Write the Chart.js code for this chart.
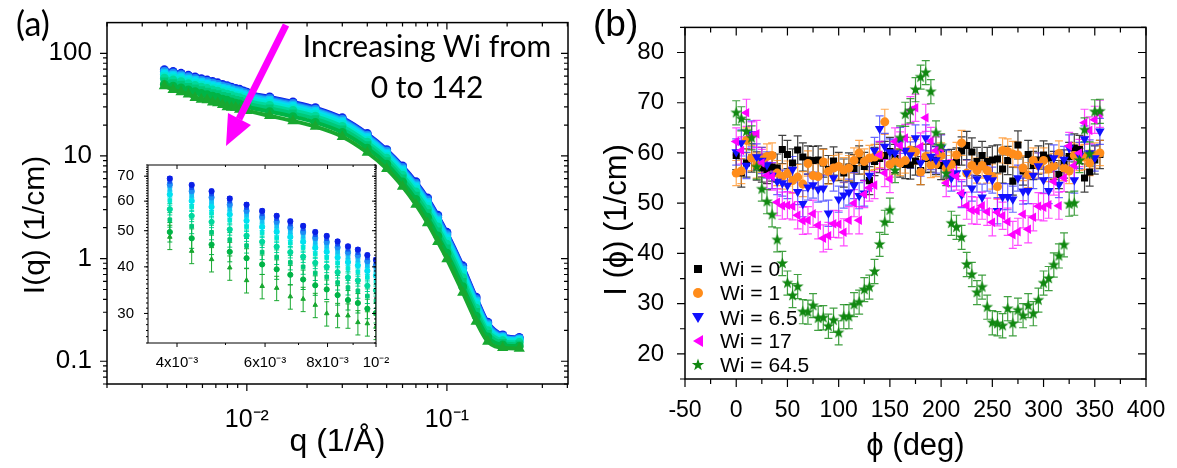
<!DOCTYPE html>
<html>
<head>
<meta charset="utf-8">
<script src="https://cdn.jsdelivr.net/npm/chart.js@4.4.1/dist/chart.umd.min.js"></script>
<style>
  body { margin: 0; background: #fff; }
  #wrap { position: relative; width: 1177px; height: 468px; overflow: hidden; font-family: "Liberation Sans", Arial, sans-serif; color: #000; }
  .box { position: absolute; }
  .lbl { position: absolute; white-space: nowrap; }
  .rot { transform: translate(-50%, -50%) rotate(-90deg); }
  .leg { position: absolute; left: 720px; font-size: 21px; line-height: 24px; white-space: nowrap; }
  .mk { position: absolute; left: 691px; }
</style>
</head>
<body>
<div id="wrap">
  <div class="box" style="left:0;top:0"><canvas id="chartA" width="590" height="468"></canvas></div>
  <div class="box" style="left:100px;top:150px"><canvas id="chartInset" width="300" height="240"></canvas></div>
  <div class="box" style="left:590px;top:0"><canvas id="chartB" width="587" height="468"></canvas></div>

  <div class="lbl" style="left:16px;top:6px;font-family:Lato;font-size:34px;line-height:34px">(a)</div>
  <div class="lbl" style="left:593px;top:5px;font-size:37px;line-height:37px">(b)</div>
  <div class="lbl rot" style="left:34px;top:225px;font-size:30px">I(q) (1/cm)</div>
  <div class="lbl rot" style="left:616px;top:220px;font-size:31px">I (ϕ) (1/cm)</div>
  <div class="lbl" style="left:277px;top:25px;width:300px;text-align:center;font-family:Lato;font-size:30px;line-height:41px;white-space:normal">Increasing Wi from<br>0 to 142</div>

  <svg class="box" style="left:0;top:0" width="590" height="200">
    <line x1="286" y1="25" x2="239" y2="119" stroke="#ff00ff" stroke-width="7"/>
    <polygon points="226,146 251,125 228,113" fill="#ff00ff"/>
  </svg>

  <svg class="mk" style="top:262px" width="14" height="14"><rect x="3" y="3" width="8" height="8" fill="#000"/></svg>
  <div class="leg" style="top:257px">Wi = 0</div>
  <svg class="mk" style="top:286px" width="14" height="14"><circle cx="7" cy="7" r="5" fill="#ff8c1a"/></svg>
  <div class="leg" style="top:281px">Wi = 1</div>
  <svg class="mk" style="top:311px" width="14" height="14"><polygon points="1,2 13,2 7,12" fill="#1010ff"/></svg>
  <div class="leg" style="top:306px">Wi = 6.5</div>
  <svg class="mk" style="top:334px" width="14" height="14"><polygon points="2,7 12,1 12,13" fill="#ff00ff"/></svg>
  <div class="leg" style="top:329px">Wi = 17</div>
  <svg class="mk" style="top:358px" width="14" height="14"><polygon points="7,0.5 8.5,4.9 13.2,5 9.5,7.8 10.8,12.3 7,9.6 3.2,12.3 4.5,7.8 0.8,5 5.5,4.9" fill="#118811"/></svg>
  <div class="leg" style="top:353px">Wi = 64.5</div>
</div>

<script>
// ---------- panel (a): SANS intensity, series from low Wi (blue) to high Wi (green)
const qA = [0.00387, 0.00428, 0.00469, 0.0051, 0.00551, 0.00592, 0.00633, 0.00674, 0.00715, 0.00756,
  0.00797, 0.00838, 0.00879, 0.0092, 0.00961, 0.01, 0.013, 0.017, 0.022, 0.03,
  0.04, 0.05, 0.06, 0.07, 0.08, 0.09, 0.1, 0.12, 0.14, 0.16, 0.19, 0.23];

const iq1 = [69.0, 66.3, 63.8, 61.0, 58.7, 56.5, 54.8, 53.0, 51.5, 49.6, 48.4, 46.8, 45.4, 44.5, 43.0, 41.8,
  37.5, 33.5, 29.5, 23.5, 16.5, 11.5, 8.0, 5.6, 3.9, 2.65, 1.8, 0.85, 0.42, 0.24, 0.18, 0.17];
const iq2 = [67.8, 65.2, 62.7, 60.0, 57.7, 55.5, 53.9, 52.1, 50.6, 48.8, 47.6, 46.0, 44.6, 43.7, 42.3, 41.1,
  36.9, 32.9, 29.0, 23.1, 16.2, 11.3, 7.85, 5.49, 3.81, 2.59, 1.76, 0.83, 0.411, 0.236, 0.178, 0.168];
const iq3 = [66.4, 63.8, 61.4, 58.7, 56.5, 54.4, 52.8, 51.0, 49.6, 47.8, 46.6, 45.1, 43.7, 42.9, 41.4, 40.3,
  36.1, 32.3, 28.4, 22.6, 15.9, 11.1, 7.67, 5.35, 3.71, 2.51, 1.71, 0.805, 0.40, 0.231, 0.175, 0.166];
const iq4 = [64.8, 62.2, 59.9, 57.2, 55.1, 53.0, 51.4, 49.7, 48.3, 46.5, 45.4, 43.9, 42.6, 41.8, 40.4, 39.2,
  35.2, 31.4, 27.7, 22.1, 15.5, 10.8, 7.46, 5.19, 3.58, 2.42, 1.65, 0.777, 0.387, 0.225, 0.172, 0.164];
const iq5 = [62.6, 60.1, 57.9, 55.3, 53.2, 51.2, 49.7, 48.1, 46.7, 45.0, 43.9, 42.4, 41.2, 40.4, 39.0, 37.9,
  34.0, 30.4, 26.8, 21.3, 15.0, 10.4, 7.19, 4.98, 3.43, 2.31, 1.57, 0.741, 0.371, 0.217, 0.168, 0.161];
const iq6 = [60.2, 57.9, 55.7, 53.3, 51.2, 49.3, 47.8, 46.3, 45.0, 43.3, 42.3, 40.9, 39.6, 38.8, 37.5, 36.5,
  32.7, 29.2, 25.8, 20.5, 14.4, 10.0, 6.90, 4.76, 3.26, 2.19, 1.49, 0.702, 0.353, 0.209, 0.164, 0.157];
const iq7 = [57.1, 54.8, 52.8, 50.4, 48.5, 46.7, 45.3, 43.8, 42.6, 41.0, 40.0, 38.7, 37.5, 36.8, 35.6, 34.6,
  31.0, 27.7, 24.4, 19.4, 13.6, 9.5, 6.50, 4.45, 3.03, 2.03, 1.38, 0.65, 0.329, 0.198, 0.158, 0.152];
const iq8 = [53.5, 51.4, 49.5, 47.3, 45.6, 43.8, 42.5, 41.1, 40.0, 38.5, 37.6, 36.3, 35.2, 34.5, 33.4, 32.4,
  29.1, 26.0, 22.9, 18.2, 12.8, 8.9, 6.06, 4.12, 2.78, 1.85, 1.26, 0.594, 0.303, 0.185, 0.151, 0.146];
const iq9 = [49.6, 47.7, 45.9, 43.9, 42.2, 40.6, 39.4, 38.1, 37.0, 35.7, 34.8, 33.6, 32.6, 32.0, 30.9, 30.1,
  27.0, 24.1, 21.2, 16.9, 11.9, 8.3, 5.58, 3.76, 2.52, 1.66, 1.13, 0.533, 0.275, 0.172, 0.144, 0.14];
const iq10 = [48.1, 44.1, 41.9, 39.8, 36.8, 35.5, 35.1, 33.3, 32.8, 31.6, 30.0, 29.7, 29.6, 28.4, 28.2, 27.6,
  24.6, 21.9, 19.3, 15.4, 10.8, 7.5, 5.04, 3.36, 2.22, 1.46, 0.99, 0.468, 0.244, 0.156, 0.135, 0.133];
// relative error of each series (inset error bars)
const errRelA = [0.012, 0.013, 0.015, 0.018, 0.022, 0.028, 0.035, 0.045, 0.06, 0.075];

const xTickA = [0.01, 0.1];
const xLabA = ['10⁻²', '10⁻¹'];
const yTickA = [0.1, 1, 10, 100];
const yLabA = ['0.1', '1', '10', '100'];
const xTickIn = [0.004, 0.006, 0.008, 0.01];
const xLabIn = ['4x10⁻³', '6x10⁻³', '8x10⁻³', '10⁻²'];
const yTickIn = [30, 40, 50, 60, 70];

// ---------- panel (b): azimuthal intensity
const phi = [0, 5, 10, 15, 20, 25, 30, 35, 40, 45, 50, 55, 60, 65, 70, 75, 80, 85, 90, 95, 100, 105, 110, 115,
  120, 125, 130, 135, 140, 145, 150, 155, 160, 165, 170, 175, 180, 185, 190, 195, 200, 205, 210, 215, 220, 225,
  230, 235, 240, 245, 250, 255, 260, 265, 270, 275, 280, 285, 290, 295, 300, 305, 310, 315, 320, 325, 330, 335,
  340, 345, 350, 355];
const iWi0 = [59.5, 56, 58, 59, 57.4, 57, 56.7, 57.2, 57, 60.7, 59.7, 58, 60.6, 59.2, 58.6, 58.5, 58.6, 58, 56.7,
  58.4, 57.3, 56, 57.2, 56.9, 58.6, 57.3, 54.5, 58.3, 58.9, 59.5, 60.3, 58.9, 58, 57.7, 57.6, 58.4, 56.5, 58.9,
  59, 58.5, 57.5, 57.8, 57.9, 58.2, 60.4, 61.5, 60.2, 58.3, 59.5, 58.3, 58.6, 58.8, 56.8, 58.5, 54.4, 61.6,
  56.4, 59.7, 57.5, 58.6, 59.6, 59, 57.5, 55.7, 57.8, 59.3, 61, 60.7, 55, 56.2, 58.6, 59.7];
const iWi1 = [56, 56.4, 62.5, 59, 57.5, 58.6, 59.3, 59.5, 56, 55.3, 55.9, 54.5, 55.2, 53.8, 57.9, 55.5, 55.3,
  58.2, 56.3, 57, 57.3, 56.6, 57, 58.5, 60, 58.3, 59, 59.2, 59.6, 66.2, 57.7, 58.3, 58, 58.5, 60.6, 60.2, 56.2,
  59.3, 57.6, 57.8, 59.5, 57, 57.7, 59.6, 62, 56, 57.5, 56.5, 57.5, 56.5, 55.3, 53.3, 60.5, 60.3, 59.8, 59.6,
  57, 55.6, 58.5, 57.5, 58.5, 56.8, 57.4, 59.9, 57, 56.4, 59.5, 59, 59.2, 58, 59.5, 60];
const iWi6_5 = [60.2, 62, 57.5, 63.8, 59.2, 58.5, 57.6, 55.5, 54.3, 54, 53.5, 56.7, 52.3, 49.9, 53.2, 53.6, 52.8,
  53, 48, 55, 50.8, 51.6, 52.2, 53.5, 51.5, 52, 55.5, 60.5, 64.8, 61.3, 60.2, 60, 62.5, 60.5, 59.6, 63, 58, 63,
  59.3, 58.6, 61, 58, 55, 56, 51.7, 56, 53, 54.8, 51.2, 55, 54.6, 48.5, 51.3, 51.3, 50.8, 55, 52.4, 52.5, 55.5,
  57.4, 54.6, 52.5, 59, 53.7, 58.7, 61, 54.6, 59.5, 62.8, 60, 59, 64.3];
const iWi17 = [62.3, 60.5, 68, 63.5, 63.8, 58, 55.5, 55.3, 50.2, 49.5, 49.6, 49.4, 47.6, 46.5, 46.6, 47.9, 45.6,
  43, 43.5, 45.9, 45.8, 44.2, 46.6, 50, 46.6, 51.8, 53.1, 53.6, 59.6, 56, 54.8, 62.3, 61.5, 63, 68.5, 69, 61.3,
  67, 62.4, 60.5, 61, 54, 56, 55.3, 52, 49.5, 48.6, 48.5, 49.5, 48.3, 46.2, 48.2, 47.5, 46.3, 43.7, 44.3, 47.8,
  44.8, 47.2, 49.4, 49.2, 49.7, 54.3, 49.5, 55, 61.4, 57.5, 60, 66, 64.5, 66.6, 67.8];
const iWi64_5 = [68, 66.8, 64.3, 63, 57.2, 52.8, 50.3, 47.7, 42.7, 38, 34.1, 31.6, 33.4, 28.4, 28.3, 29.6, 27.1,
  27.2, 25.5, 26.7, 24.2, 27.4, 27.4, 29.8, 30.3, 32.8, 33.3, 36.4, 41.8, 46.2, 48.6, 56.5, 63, 67.7, 68.4,
  72.6, 75.1, 76, 72.2, 64, 61.4, 55.9, 46, 45.2, 43.2, 37.8, 35.8, 32.2, 33.3, 29.3, 26.2, 26, 25.6, 29, 26,
  28.7, 27.6, 29.6, 28, 30.7, 34.1, 35, 37.7, 39.5, 41.7, 49.8, 50, 58.5, 64.6, 59.8, 68.2, 68.3];
// typical error bar of each series
const errB = [2.8, 2.5, 2.6, 2.7, 2.4];
const xTickB = [-50, 0, 50, 100, 150, 200, 250, 300, 350, 400];
const yTickB = [20, 30, 40, 50, 60, 70, 80];

// ---------- helpers
Chart.defaults.font.family = '"Liberation Sans", Arial, sans-serif';
Chart.defaults.color = '#000';

function logTicks(min, max) {
  const out = [];
  for (let e = Math.floor(Math.log10(min)); e <= Math.ceil(Math.log10(max)); e++) {
    for (let k = 1; k < 10; k++) {
      const v = k * Math.pow(10, e);
      if (v >= min * 0.999 && v <= max * 1.001) out.push({ value: v });
    }
  }
  return out;
}
function labelFor(v, majors, labels) {
  const i = majors.findIndex(m => Math.abs(m - v) / Math.abs(m) < 1e-6);
  return i >= 0 ? labels[i] : '';
}

// box around the plot, outward ticks left/bottom, inward ticks top/right
const frameTicks = {
  id: 'frameTicks',
  beforeDraw(chart, args, o) {
    if (!o.bg) return;
    const a = chart.chartArea;
    chart.ctx.save();
    chart.ctx.fillStyle = o.bg;
    chart.ctx.fillRect(a.left, a.top, a.width, a.height);
    chart.ctx.restore();
  },
  afterDraw(chart, args, o) {
    const { ctx, chartArea: a } = chart;
    const xs = chart.scales.x, ys = chart.scales.y;
    ctx.save();
    ctx.strokeStyle = '#000';
    ctx.lineWidth = o.lw || 1.5;
    ctx.strokeRect(a.left, a.top, a.width, a.height);
    ctx.lineWidth = o.tw || 1.2;
    ctx.beginPath();
    xs.ticks.forEach(t => {
      const x = xs.getPixelForValue(t.value);
      if (x < a.left - 0.5 || x > a.right + 0.5) return;
      const len = t.label !== '' ? o.major : o.minor;
      ctx.moveTo(x, a.bottom); ctx.lineTo(x, a.bottom + len);
      ctx.moveTo(x, a.top); ctx.lineTo(x, a.top + len);
    });
    const yList = o.yMinor ? ys.ticks.concat(o.yMinor.map(v => ({ value: v, label: '' }))) : ys.ticks;
    yList.forEach(t => {
      const y = ys.getPixelForValue(t.value);
      if (y < a.top - 0.5 || y > a.bottom + 0.5) return;
      const len = t.label !== '' ? o.major : o.minor;
      ctx.moveTo(a.left, y); ctx.lineTo(a.left - len, y);
      ctx.moveTo(a.right, y); ctx.lineTo(a.right - len, y);
    });
    ctx.stroke();
    ctx.restore();
  }
};

const errorBars = {
  id: 'errorBars',
  beforeDatasetsDraw(chart) {
    const { ctx, chartArea: a } = chart;
    const ys = chart.scales.y;
    ctx.save();
    ctx.beginPath();
    ctx.rect(a.left, a.top, a.width, a.height);
    ctx.clip();
    chart.data.datasets.forEach((ds, i) => {
      if (ds.errAbs === undefined && ds.errRel === undefined) return;
      const meta = chart.getDatasetMeta(i);
      ctx.strokeStyle = ds.errColor;
      ctx.lineWidth = ds.errWidth || 1.2;
      const cap = ds.errCap || 4;
      meta.data.forEach((pt, j) => {
        const v = ds.data[j].y;
        const e = ds.errAbs !== undefined ? ds.errAbs : v * ds.errRel;
        const y1 = ys.getPixelForValue(v + e), y2 = ys.getPixelForValue(v - e);
        ctx.beginPath();
        ctx.moveTo(pt.x, y1); ctx.lineTo(pt.x, y2);
        ctx.moveTo(pt.x - cap, y1); ctx.lineTo(pt.x + cap, y1);
        ctx.moveTo(pt.x - cap, y2); ctx.lineTo(pt.x + cap, y2);
        ctx.stroke();
      });
    });
    ctx.restore();
  }
};

// filled five-point star marker
function starMarker(color, size) {
  const c = document.createElement('canvas');
  c.width = size; c.height = size;
  const g = c.getContext('2d');
  const cx = size / 2, cy = size / 2, R = size / 2 - 0.3, r = R * 0.4;
  g.beginPath();
  for (let k = 0; k < 10; k++) {
    const ang = (-90 + 36 * k) * Math.PI / 180;
    const rr = k % 2 ? r : R;
    g.lineTo(cx + rr * Math.cos(ang), cy + rr * Math.sin(ang));
  }
  g.closePath();
  g.fillStyle = color;
  g.fill();
  return c;
}

// ---------- chart (a)
const seriesA = [iq1, iq2, iq3, iq4, iq5, iq6, iq7, iq8, iq9, iq10];
const colorsA = ['#0a1ee6', '#1450f0', '#1e8cf5', '#14c0f5', '#00e0f0', '#00e6d2', '#00d89c', '#00c878', '#00b446', '#18a830'];
const stylesA = ['circle', 'rect', 'circle', 'rect', 'circle', 'rect', 'circle', 'rect', 'circle', 'triangle'];

new Chart(document.getElementById('chartA'), {
  type: 'scatter',
  data: {
    datasets: seriesA.map((s, i) => ({
      data: qA.map((q, j) => ({ x: q, y: s[j] })),
      showLine: true,
      borderColor: colorsA[i],
      backgroundColor: colorsA[i],
      borderWidth: 4,
      pointRadius: 2.5,
      pointStyle: stylesA[i],
      cubicInterpolationMode: 'monotone',
      order: 10 - i
    }))
  },
  options: {
    responsive: false, animation: false, events: [],
    layout: { padding: { top: 19, right: 22, left: 0, bottom: 0 } },
    plugins: { legend: { display: false }, tooltip: { enabled: false }, frameTicks: { major: 7, minor: 4 } },
    scales: {
      x: {
        type: 'logarithmic', min: 0.002, max: 0.403,
        afterFit: s => { s.height = 84; },
        afterBuildTicks: s => { s.ticks = logTicks(0.002, 0.403); },
        grid: { display: false }, border: { display: false },
        ticks: { autoSkip: false, maxRotation: 0, padding: 13, font: { size: 25 }, callback: v => labelFor(v, xTickA, xLabA) },
        title: { display: true, text: 'q (1/Å)', font: { size: 32 }, padding: { top: 0, bottom: 7 } }
      },
      y: {
        type: 'logarithmic', min: 0.06, max: 199,
        afterFit: s => { s.width = 107; },
        afterBuildTicks: s => { s.ticks = logTicks(0.06, 199); },
        grid: { display: false }, border: { display: false },
        ticks: { autoSkip: false, padding: 7, font: { size: 26 }, callback: v => labelFor(v, yTickA, yLabA) }
      }
    }
  },
  plugins: [frameTicks]
});

// ---------- inset of (a)
const yMinorIn = [];
for (let v = 25; v <= 75; v++) yMinorIn.push(v);

new Chart(document.getElementById('chartInset'), {
  type: 'scatter',
  data: {
    datasets: seriesA.map((s, i) => ({
      data: qA.map((q, j) => ({ x: q, y: s[j] })),
      backgroundColor: colorsA[i],
      borderColor: colorsA[i],
      pointRadius: 2.6,
      pointStyle: stylesA[i],
      errRel: errRelA[i],
      errColor: colorsA[i],
      errCap: 2.5,
      errWidth: 1,
      order: i
    }))
  },
  options: {
    responsive: false, animation: false, events: [],
    layout: { padding: { top: 12, right: 24, left: 0, bottom: 0 } },
    plugins: { legend: { display: false }, tooltip: { enabled: false },
      frameTicks: { major: 4, minor: 2, lw: 1, tw: 1, bg: '#fff', yMinor: yMinorIn } },
    scales: {
      x: {
        type: 'logarithmic', min: 0.0035, max: 0.01,
        afterFit: s => { s.height = 47; },
        afterBuildTicks: s => { s.ticks = logTicks(0.0035, 0.01); },
        grid: { display: false }, border: { display: false },
        ticks: { autoSkip: false, maxRotation: 0, padding: 3, font: { size: 15 }, callback: v => labelFor(v, xTickIn, xLabIn) }
      },
      y: {
        type: 'logarithmic', min: 25, max: 75,
        afterFit: s => { s.width = 48; },
        afterBuildTicks: s => { s.ticks = yTickIn.map(v => ({ value: v })); },
        grid: { display: false }, border: { display: false },
        ticks: { autoSkip: false, padding: 6, font: { size: 15 }, callback: v => String(v) }
      }
    }
  },
  plugins: [frameTicks, errorBars]
});

// ---------- chart (b)
const seriesB = [iWi0, iWi1, iWi6_5, iWi17, iWi64_5];
const labelsB = ['Wi = 0', 'Wi = 1', 'Wi = 6.5', 'Wi = 17', 'Wi = 64.5'];
const colorsB = ['#000000', '#ff8c1a', '#1010ff', '#ff00ff', '#118811'];
const errColB = ['rgba(0,0,0,0.75)', 'rgba(255,140,26,0.75)', 'rgba(40,40,255,0.7)', 'rgba(255,0,255,0.7)', 'rgba(17,136,17,0.8)'];
const stylesB = ['rect', 'circle', 'triangle', 'triangle', starMarker('#118811', 13)];
const rotB = [0, 0, 180, -90, 0];
const radB = [5, 4.5, 5.5, 5.5, 6];

new Chart(document.getElementById('chartB'), {
  type: 'scatter',
  data: {
    datasets: seriesB.map((s, i) => ({
      label: labelsB[i],
      data: phi.map((p, j) => ({ x: p, y: s[j] })),
      backgroundColor: colorsB[i],
      borderColor: colorsB[i],
      borderWidth: 0,
      pointRadius: radB[i],
      pointStyle: stylesB[i],
      rotation: rotB[i],
      errAbs: errB[i],
      errColor: errColB[i],
      errCap: 4,
      order: 5 - i
    }))
  },
  options: {
    responsive: false, animation: false, events: [],
    layout: { padding: { top: 14, right: 31, left: 0, bottom: 0 } },
    plugins: { legend: { display: false }, tooltip: { enabled: false }, frameTicks: { major: 8, minor: 5 } },
    scales: {
      x: {
        type: 'linear', min: -50, max: 400,
        afterFit: s => { s.height = 89; },
        grid: { display: false }, border: { display: false },
        ticks: { stepSize: 25, autoSkip: false, maxRotation: 0, padding: 10, font: { size: 23 },
          callback: v => xTickB.includes(v) ? String(v) : '' },
        title: { display: true, text: 'ϕ (deg)', font: { size: 31 }, padding: { top: 0, bottom: 3 } }
      },
      y: {
        type: 'linear', min: 15, max: 85,
        afterFit: s => { s.width = 95; },
        grid: { display: false }, border: { display: false },
        ticks: { stepSize: 5, autoSkip: false, padding: 13, font: { size: 24 },
          callback: v => yTickB.includes(v) ? String(v) : '' }
      }
    }
  },
  plugins: [frameTicks, errorBars]
});
</script>
</body>
</html>
